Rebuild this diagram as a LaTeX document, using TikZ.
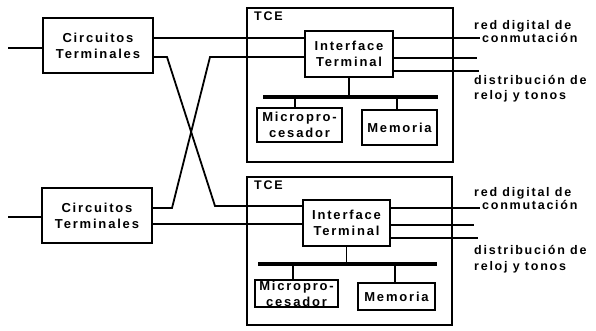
\documentclass[tikz,border=0pt]{standalone}
\usepackage{fontspec}
\setmainfont{Liberation Sans}[LetterSpace=14]
\begin{document}
\begin{tikzpicture}[x=1pt,y=-1pt,
  box/.style={draw,line width=1.8pt,inner sep=0pt,align=center,font=\bfseries\fontsize{13}{16}\selectfont},
  frame/.style={draw,line width=1.8pt,inner sep=0pt},
  lbl/.style={inner sep=0pt,font=\bfseries\fontsize{12.5}{15}\selectfont,anchor=west,text height=9pt,text depth=3pt},
  wire/.style={line width=1.8pt},
  bus/.style={line width=4.5pt}]
\useasboundingbox (0,0) rectangle (596,330);
% ---------- top unit ----------
\node[box,minimum width=110pt,minimum height=55pt] (ct1) at (98,45.5) {Circuitos\\Terminales};
\node[frame,minimum width=206pt,minimum height=154pt] (tce1) at (350,85) {};
\node[lbl] (tl1) at (254,17) {TCE};
\node[box,minimum width=88pt,minimum height=46pt] (it1) at (349,54) {Interface\\Terminal};
\coordinate (b1l) at (263,97);
\coordinate (b1r) at (438,97);
\draw[bus] (b1l) -- (b1r);
\draw[wire] (it1.south) -- (it1.south |- b1l);
\node[box,minimum width=85pt,minimum height=34pt] (mp1) at (299.5,125) {Micropro-\\cesador};
\node[box,minimum width=75pt,minimum height=35pt] (me1) at (399.5,127.5) {Memoria};
\coordinate (j1) at (295,97);
\coordinate (j2) at (397,97);
\draw[wire] (j1) -- (j1 |- mp1.north);
\draw[wire] (j2) -- (j2 |- me1.north);
% right side
\coordinate (r1a) at (480,38);
\coordinate (r1b) at (477,58);
\coordinate (r1c) at (479,71);
\draw[wire] (it1.east |- r1a) -- (r1a);
\draw[wire] (it1.east |- r1b) -- (r1b);
\draw[wire] (it1.east |- r1c) -- (r1c);
\node[lbl] (rd1) at (474,26) {red digital de};
\node[lbl] (cm1) at (482,39) {conmutación};
\node[lbl] (ds1) at (474,81) {distribución de};
\node[lbl] (rl1) at (474,96) {reloj y tonos};
% ---------- bottom unit ----------
\node[box,minimum width=110pt,minimum height=55pt] (ct2) at (97,215.5) {Circuitos\\Terminales};
\node[frame,minimum width=205pt,minimum height=148pt] (tce2) at (349.5,251) {};
\node[lbl] (tl2) at (254,186) {TCE};
\node[box,minimum width=87pt,minimum height=46pt] (it2) at (346.5,223) {Interface\\Terminal};
\coordinate (b2l) at (258,264);
\coordinate (b2r) at (437,264);
\draw[bus] (b2l) -- (b2r);
\draw[wire] (it2.south) -- (it2.south |- b2l);
\node[box,minimum width=83pt,minimum height=27pt] (mp2) at (296.5,293.5) {Micropro-\\cesador};
\node[box,minimum width=77pt,minimum height=27pt] (me2) at (396.5,296.5) {Memoria};
\coordinate (j3) at (293,264);
\coordinate (j4) at (395,264);
\draw[wire] (j3) -- (j3 |- mp2.north);
\draw[wire] (j4) -- (j4 |- me2.north);
\coordinate (r2a) at (480,208);
\coordinate (r2b) at (474,225);
\coordinate (r2c) at (478,238);
\draw[wire] (it2.east |- r2a) -- (r2a);
\draw[wire] (it2.east |- r2b) -- (r2b);
\draw[wire] (it2.east |- r2c) -- (r2c);
\node[lbl] (rd2) at (474,193) {red digital de};
\node[lbl] (cm2) at (482,206) {conmutación};
\node[lbl] (ds2) at (474,251) {distribución de};
\node[lbl] (rl2) at (474,267) {reloj y tonos};
% ---------- inputs and cross links ----------
\coordinate (in1) at (8,48);
\coordinate (in2) at (8,217);
\draw[wire] (in1) -- (ct1.west |- in1);
\draw[wire] (in2) -- (ct2.west |- in2);
\coordinate (h1) at (0,38);
\coordinate (h2) at (0,224);
\draw[wire] (ct1.east |- h1) -- (it1.west |- h1);
\draw[wire] (ct2.east |- h2) -- (it2.west |- h2);
\coordinate (k1) at (167,57);
\coordinate (k2) at (215,206);
\coordinate (k3) at (210,57);
\coordinate (k4) at (172,208);
\draw[wire] (ct1.east |- k1) -- (k1) -- (k2) -- (it2.west |- k2);
\draw[wire] (it1.west |- k3) -- (k3) -- (k4) -- (ct2.east |- k4);
\end{tikzpicture}
\end{document}
